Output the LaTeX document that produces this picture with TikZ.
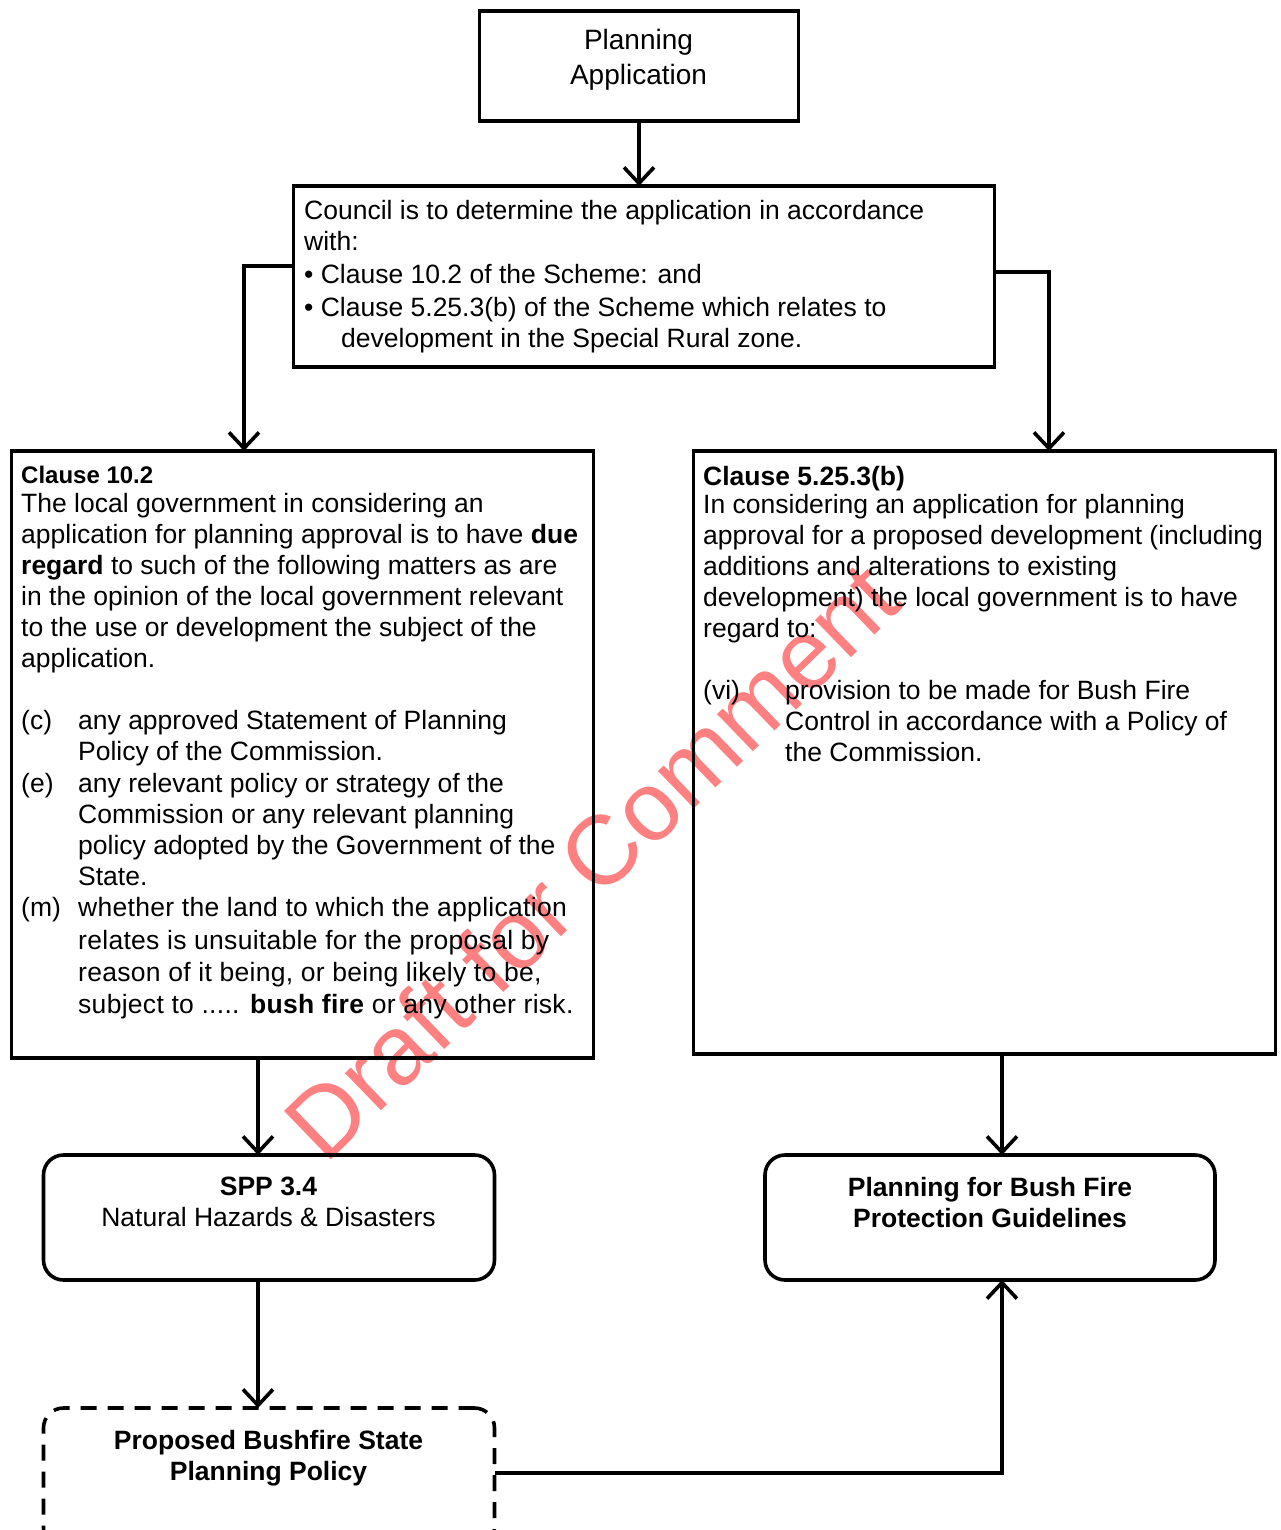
\documentclass[tikz,border=0pt]{standalone}
\usepackage{fontspec}
\setmainfont{Liberation Sans}
\usetikzlibrary{arrows.meta}
\definecolor{wmred}{RGB}{255,128,128}
\newcommand{\spread}{\addfontfeatures{LetterSpace=1.1}}
\begin{document}
\begin{tikzpicture}[x=1pt,y=-1pt,
  box/.style={draw, line width=3.6pt, inner sep=0pt, outer sep=0pt, anchor=north west},
  rbox/.style={box, rounded corners=20pt},
  dbox/.style={rbox, dash pattern=on 16pt off 11pt},
  txt/.style={inner sep=0pt, align=left, anchor=base west, font=\fontsize{26.5}{31}\selectfont},
  ctxt/.style={txt, align=center, anchor=base},
  link/.style={line width=3.6pt},
  arr/.style={link, -{Straight Barb[length=16pt,width=30pt]}}
]
\useasboundingbox (0,0) rectangle (1281,1530);
\clip (0,0) rectangle (1281,1530);

% watermark, kept behind everything
\node[rotate=44, text=wmred, inner sep=0pt, font=\fontsize{98}{98}\selectfont] (wm) at (591,860) {Draft for Comment};

% boxes
\node[box, minimum width=319pt, minimum height=110pt] (app) at (479.5,11) {};
\node[box, minimum width=701pt, minimum height=181pt] (council) at (293.5,186) {};
\node[box, minimum width=582pt, minimum height=607pt] (c102) at (11.5,451) {};
\node[box, minimum width=582pt, minimum height=603pt] (c525) at (693.5,451) {};
\node[rbox, minimum width=451pt, minimum height=125pt] (spp) at (43.5,1155) {};
\node[rbox, minimum width=450pt, minimum height=125pt] (guide) at (765,1155) {};
\node[dbox, minimum width=451pt, minimum height=140pt] (bsp) at (43.5,1408) {};

% texts (multi-line nodes are placed by the baseline of their last line)
\node[ctxt, font=\fontsize{28}{35}\selectfont] (tapp) at (638.5,85) {Planning\\Application};

\node[txt] (tcouncil) at (304,347) {Council is to determine the application in accordance\\
with:\\[2pt]
\textbullet\ Clause 10.2 of the Scheme: and\\[2pt]
\textbullet\ Clause 5.25.3(b) of the Scheme which relates to\\
\hspace*{37pt}development in the Special Rural zone.};

\node[txt, font=\fontsize{24}{31}\bfseries] (h102) at (21,483) {Clause 10.2};
\node[txt] (t102) at (21,1013) {The local government in considering an\\
application for planning approval is to have \textbf{due}\\
\textbf{regard} to such of the following matters as are\\
in the opinion of the local government relevant\\
to the use or development the subject of the\\
application.\\[31pt]
\makebox[57pt][l]{(c)}any approved Statement of Planning\\
\hspace*{57pt}Policy of the Commission.\\[1pt]
\makebox[57pt][l]{(e)}any relevant policy or strategy of the\\
\hspace*{57pt}Commission or any relevant planning\\
\hspace*{57pt}policy adopted by the Government of the\\
\hspace*{57pt}State.\\
\makebox[57pt][l]{(m)}{\spread whether the land to which the application}\\[2pt]
\hspace*{57pt}{\spread relates is unsuitable for the proposal by}\\[1pt]
\hspace*{57pt}{\spread reason of it being, or being likely to be,}\\[1pt]
\hspace*{57pt}{\spread subject to ..... \textbf{bush fire} or any other risk.}};

\node[txt, font=\fontsize{26.5}{31}\bfseries] (h525) at (703,485) {Clause 5.25.3(b)};
\node[txt] (t525) at (703,761) {In considering an application for planning\\
approval for a proposed development (including\\
additions and alterations to existing\\
development) the local government is to have\\
regard to:\\[31pt]
\makebox[82pt][l]{(vi)}provision to be made for Bush Fire\\
\hspace*{82pt}Control in accordance with a Policy of\\
\hspace*{82pt}the Commission.};

\node[ctxt] (tspp) at (268.5,1226) {\textbf{SPP 3.4}\\Natural Hazards \& Disasters};
\node[ctxt, font=\fontsize{26.5}{31}\bfseries] (tguide) at (990,1227) {Planning for Bush Fire\\Protection Guidelines};
\node[ctxt, font=\fontsize{26.5}{31}\bfseries] (tbsp) at (268.5,1480) {Proposed Bushfire State\\Planning Policy};

% connectors
\coordinate (kA) at (639,0);
\coordinate (kL) at (244,266);
\coordinate (kR) at (1049,272);
\coordinate (kS) at (258,0);
\coordinate (kG) at (1002,1473);

\draw[arr] (kA |- app.south) -- (kA |- council.north);
\draw[arr] (council.west |- kL) -- (kL) -- (kL |- c102.north);
\draw[arr] (council.east |- kR) -- (kR) -- (kR |- c525.north);
\draw[arr] (kS |- c102.south) -- (kS |- spp.north);
\draw[arr] (kG |- c525.south) -- (kG |- guide.north);
\draw[arr] (kS |- spp.south) -- (kS |- bsp.north);
\draw[arr] (bsp.east |- kG) -- (kG) -- (kG |- guide.south);
\end{tikzpicture}
\end{document}
